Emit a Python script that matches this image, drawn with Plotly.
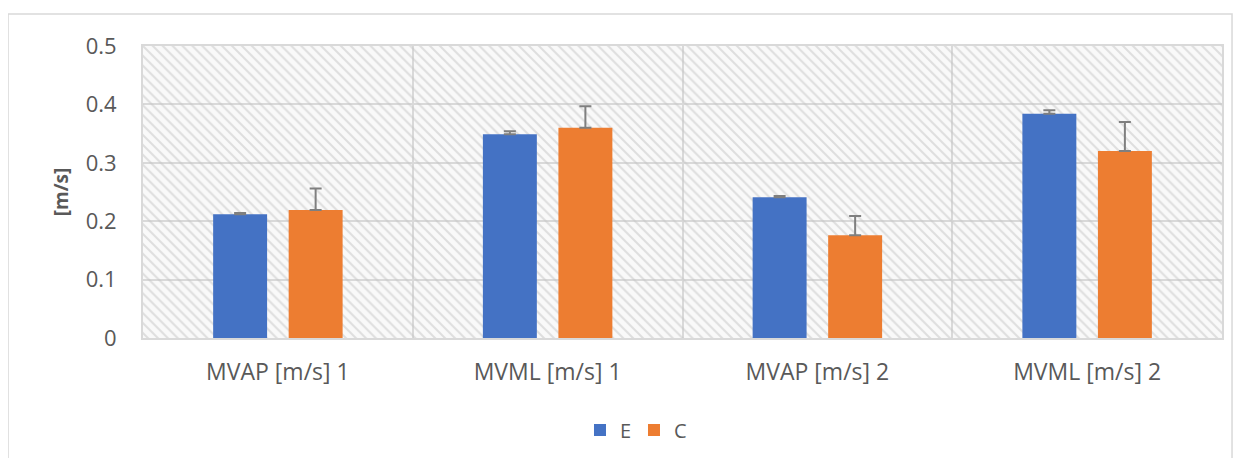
import plotly.graph_objects as go

categories = ["MVAP [m/s] 1", "MVML [m/s] 1", "MVAP [m/s] 2", "MVML [m/s] 2"]
e_values = [0.212, 0.349, 0.241, 0.384]
e_errors = [0.002, 0.005, 0.002, 0.006]
c_values = [0.219, 0.360, 0.176, 0.320]
c_errors = [0.037, 0.037, 0.033, 0.050]
y_ticks = [0, 0.1, 0.2, 0.3, 0.4, 0.5]
y_tick_labels = ["0", "0.1", "0.2", "0.3", "0.4", "0.5"]
y_max = 0.5

BLUE = "#4472C4"
ORANGE = "#ED7D31"
GRID = "#d9d9d9"
TXT = "#595959"

fig = go.Figure()

# hatched plot-area background
fig.add_trace(go.Bar(
    x=categories, y=[y_max] * len(categories), width=1.0, offset=-0.5,
    marker=dict(color="rgba(0,0,0,0)", line=dict(width=0),
                pattern=dict(shape="\\", fgcolor="#c4c4c4", bgcolor="rgba(0,0,0,0)",
                             size=7, solidity=0.3, fillmode="overlay")),
    showlegend=False, hoverinfo="skip",
))

fig.add_trace(go.Bar(
    name="E", x=categories, y=e_values, width=0.2, offset=-0.24,
    marker=dict(color=BLUE, line=dict(width=0)),
    error_y=dict(type="data", array=e_errors, symmetric=False, arrayminus=[0] * 4,
                 color="#7f7f7f", thickness=2, width=6),
))
fig.add_trace(go.Bar(
    name="C", x=categories, y=c_values, width=0.2, offset=0.04,
    marker=dict(color=ORANGE, line=dict(width=0)),
    error_y=dict(type="data", array=c_errors, symmetric=False, arrayminus=[0] * 4,
                 color="#7f7f7f", thickness=2, width=6),
))

fig.update_layout(
    width=1228, height=450,
    barmode="overlay",
    paper_bgcolor="white", plot_bgcolor="#f9f9f9",
    margin=dict(l=135, r=14, t=38, b=120, autoexpand=False),
    font=dict(family="Open Sans, Liberation Sans, sans-serif", color=TXT),
    showlegend=True,
    legend=dict(orientation="h", x=0.405, xanchor="left", y=-0.315, yanchor="middle",
                font=dict(size=20, color=TXT), itemwidth=30, traceorder="normal",
                entrywidth=9, entrywidthmode="pixels"),
    shapes=[dict(type="rect", xref="paper", yref="paper",
                 x0=-0.1251, x1=1.0093, y0=-0.45, y1=1.1096,
                 line=dict(color=GRID, width=1.5), fillcolor="rgba(0,0,0,0)", layer="below")],
)

fig.update_xaxes(
    type="category", tickson="boundaries", showgrid=True, gridcolor=GRID, gridwidth=2,
    showline=True, linecolor=GRID, linewidth=2, mirror=True,
    ticks="", tickfont=dict(size=23, color=TXT), range=[-0.5, 3.5],
    ticklabelstandoff=12,
)
fig.update_yaxes(
    range=[0, y_max], tickvals=y_ticks, ticktext=y_tick_labels,
    showgrid=True, gridcolor=GRID, gridwidth=2, zeroline=False,
    showline=True, linecolor=GRID, linewidth=2, mirror=True,
    ticks="", tickfont=dict(size=22, color=TXT), ticklabelstandoff=20,
    title=dict(text="<b>[m/s]</b>", font=dict(size=19, color=TXT), standoff=12),
)

fig.write_html("out.html")
